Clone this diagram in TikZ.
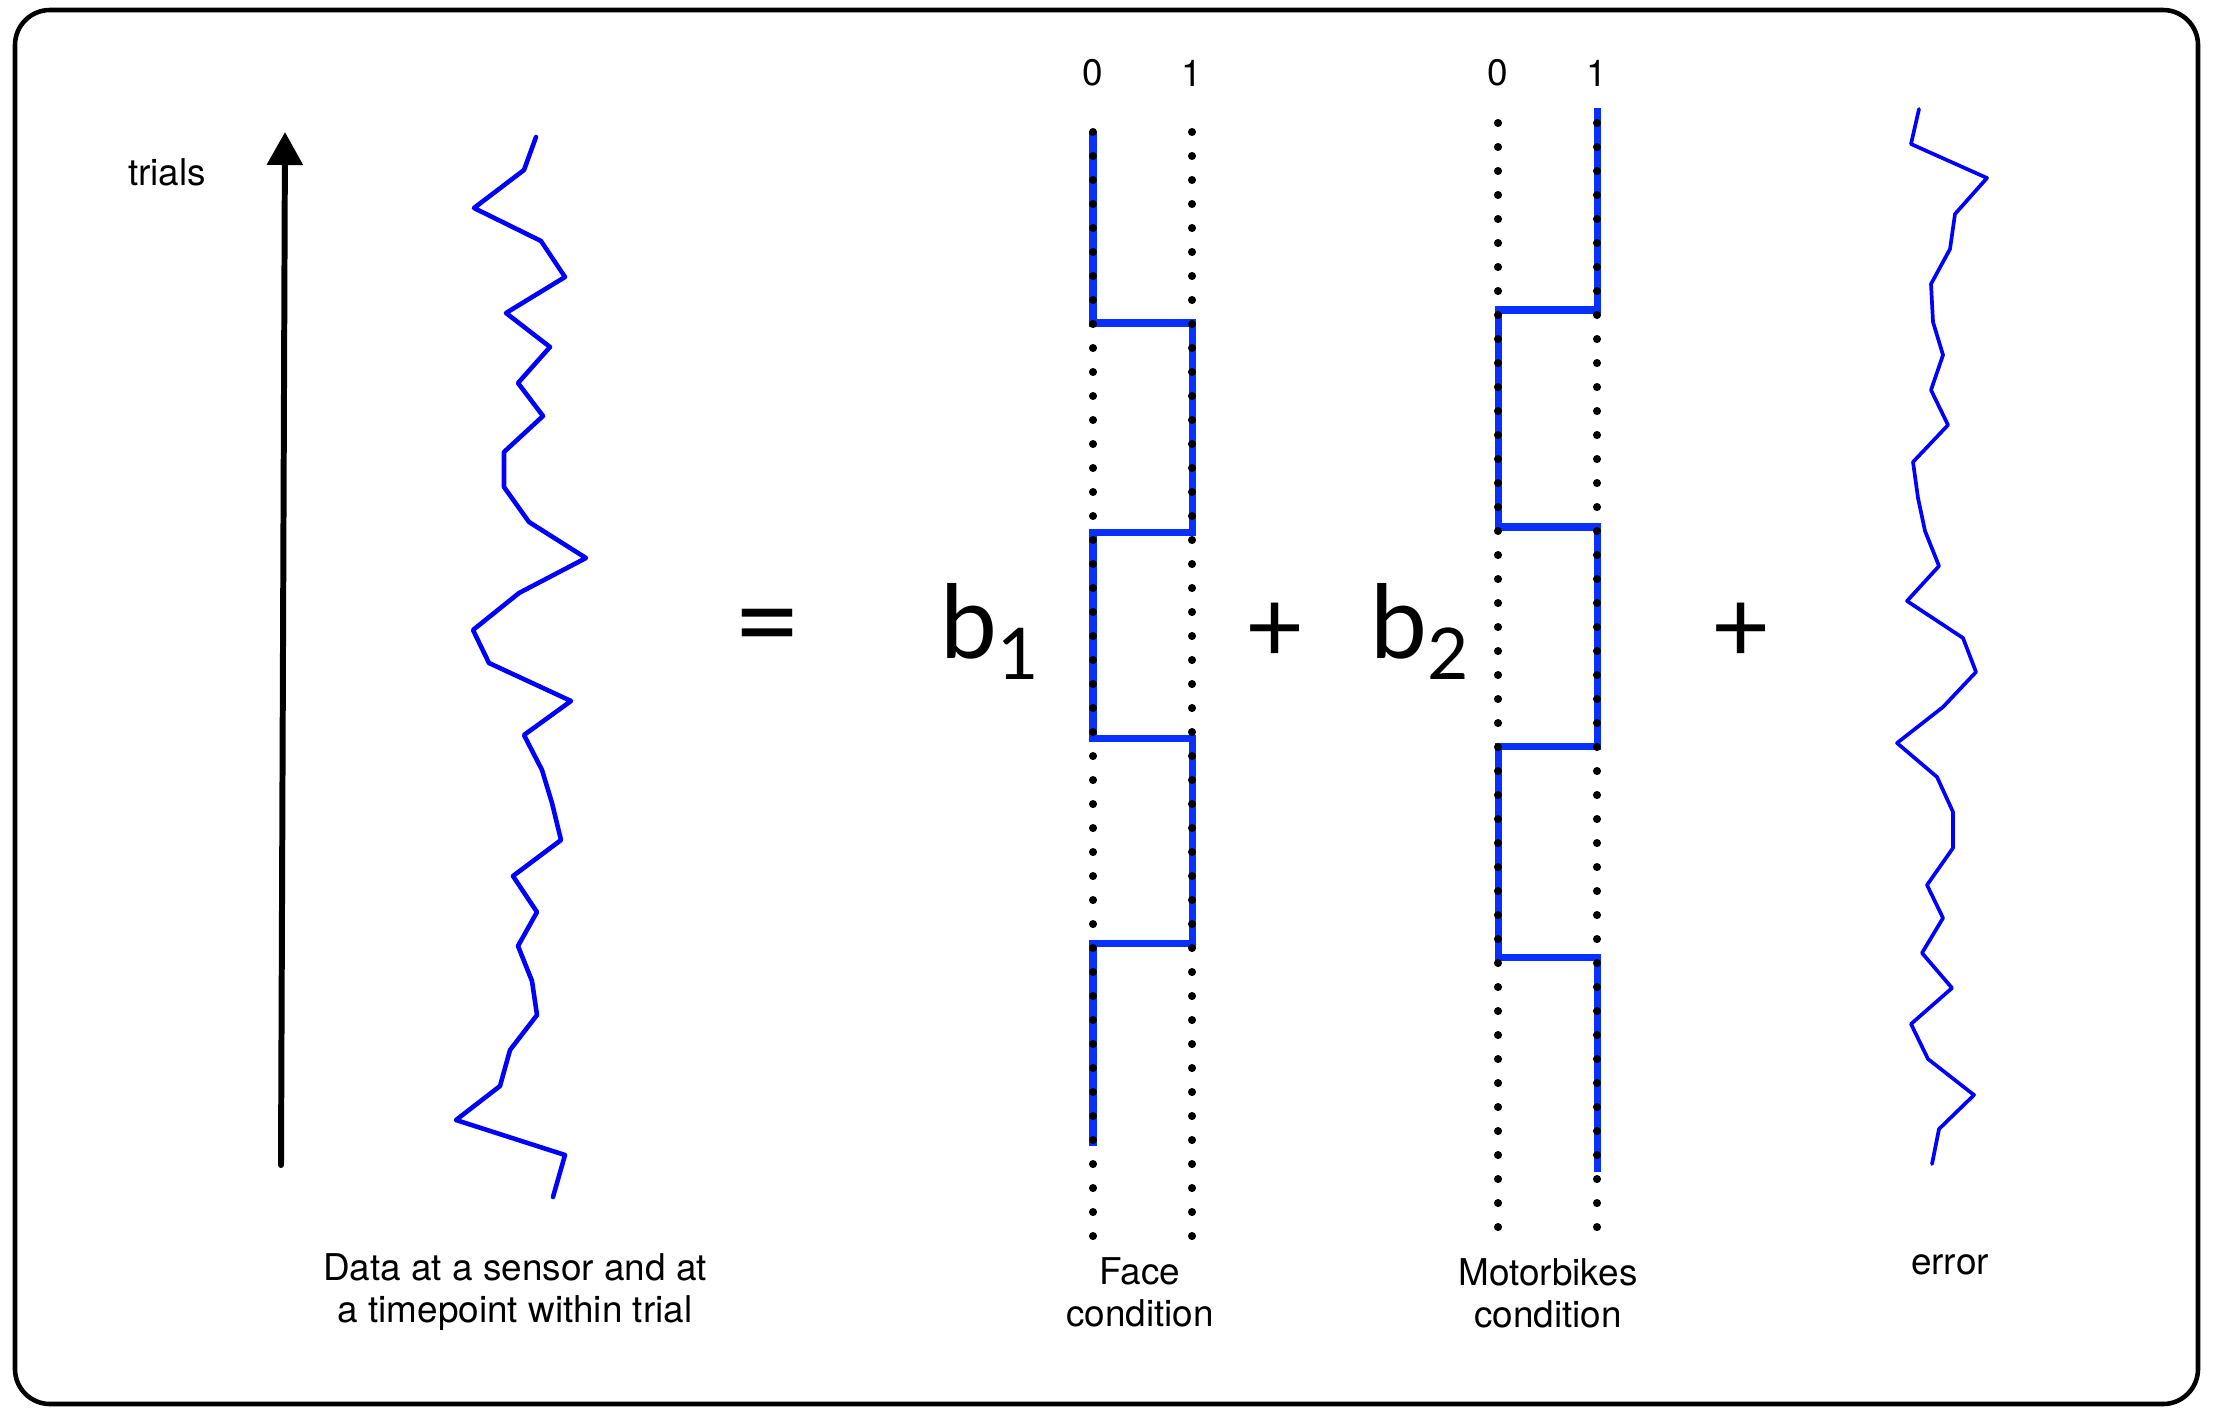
\documentclass[tikz,border=0pt]{standalone}
\usepackage{fontspec}
\setmainfont{TeX Gyre Heros}
\newfontfamily\gillfont{Lato}
\usepackage{tikz}
\usetikzlibrary{arrows.meta}
\definecolor{tracecol}{RGB}{0,0,255}
\definecolor{stepcol}{RGB}{8,48,255}
\tikzset{
  bordbox/.style={draw=black, line width=1.3pt, rounded corners=0.35cm},
  sigline/.style={line width=1.3pt, tracecol, line join=round},
  errline/.style={line width=1.05pt, tracecol, line join=round},
  regline/.style={line width=2pt, stepcol, line cap=butt, line join=miter},
  guide/.style={line width=2.3pt, dash pattern=on 0pt off 0.24cm, line cap=round},
  trialarrow/.style={line width=1.7pt, -{Triangle[length=0.33cm,width=0.35cm]}},
  lvl/.style={font=\fontsize{10.5}{12}\selectfont, inner sep=0pt},
  capt/.style={font=\fontsize{10.5}{12}\selectfont, align=center, inner sep=0pt},
  bigsym/.style={font=\gillfont\fontsize{29}{30}\selectfont, inner sep=0pt},
}
\begin{document}
\begin{tikzpicture}[x=1cm,y=-1cm,line cap=round]
  \useasboundingbox (0,0) rectangle (22.14,14.08);
  \draw[bordbox] (0.15,0.10) rectangle (21.98,14.04);
  % ---- trials axis ----
  \coordinate (tbot) at (2.81,11.65);
  \coordinate (ttop) at (2.85,1.32);
  \draw[trialarrow] (tbot) -- (ttop);
  \node[lvl] (trials) at (1.67,1.72) {trials};
  % ---- data ----
  \draw[sigline] (5.36,1.37) -- (5.24,1.70) -- (4.74,2.08) -- (5.41,2.41) -- (5.65,2.77)
    -- (5.06,3.13) -- (5.50,3.47) -- (5.18,3.83) -- (5.43,4.16) -- (5.04,4.52)
    -- (5.04,4.87) -- (5.29,5.22) -- (5.86,5.58) -- (5.19,5.93) -- (4.73,6.30)
    -- (4.89,6.63) -- (5.71,7.01) -- (5.24,7.35) -- (5.42,7.70) -- (5.52,8.03)
    -- (5.61,8.40) -- (5.13,8.76) -- (5.37,9.12) -- (5.18,9.46) -- (5.32,9.81)
    -- (5.37,10.15) -- (5.10,10.50) -- (5.00,10.86) -- (4.56,11.20) -- (5.65,11.55)
    -- (5.53,11.97);
  \node[capt] (datalbl) at (5.15,12.92) {Data at a sensor and at\\a timepoint within trial};
  \node[bigsym, scale=1.15] (eq) at (7.67,6.36) {=};
  % ---- face regressor ----
  \node[bigsym, anchor=base west] (b1) at (9.40,6.58) {b\textsubscript{1}};
  \draw[regline] (10.93,1.32) -- (10.93,3.23) -- (11.92,3.23) -- (11.92,5.32)
    -- (10.93,5.32) -- (10.93,7.38) -- (11.92,7.38) -- (11.92,9.43)
    -- (10.93,9.43) -- (10.93,11.46);
  \node[capt] (facelbl) at (11.40,12.92) {Face\\condition};
  \node[bigsym] (plusA) at (12.75,6.33) {+};
  % ---- motorbikes regressor ----
  \node[bigsym, anchor=base west] (b2) at (13.70,6.58) {b\textsubscript{2}};
  \draw[regline] (15.97,1.08) -- (15.97,3.10) -- (14.98,3.10) -- (14.98,5.27)
    -- (15.97,5.27) -- (15.97,7.46) -- (14.98,7.46) -- (14.98,9.57)
    -- (15.97,9.57) -- (15.97,11.72);
  \node[capt] (motolbl) at (15.48,12.93) {Motorbikes\\condition};
  % dotted 0/1 guides on top
  \foreach \x/\top in {10.93/1.32, 11.92/1.32, 14.98/1.23, 15.97/1.23}
    \draw[guide] (\x,\top) -- ++(0,11.07);
  \foreach \x/\t [count=\i] in {10.93/0, 11.92/1, 14.98/0, 15.97/1}
    \node[lvl] (lvl\i) at (\x,0.73) {\t};
  \node[bigsym] (plusB) at (17.41,6.33) {+};
  % ---- error ----
  \draw[errline] (19.19,1.09) -- (19.11,1.44) -- (19.87,1.78) -- (19.55,2.14) -- (19.50,2.49)
    -- (19.31,2.84) -- (19.33,3.22) -- (19.43,3.55) -- (19.31,3.90) -- (19.48,4.25)
    -- (19.13,4.62) -- (19.18,4.98) -- (19.25,5.31) -- (19.39,5.66) -- (19.07,6.01)
    -- (19.63,6.38) -- (19.76,6.72) -- (19.43,7.07) -- (18.97,7.43) -- (19.37,7.77)
    -- (19.53,8.12) -- (19.53,8.48) -- (19.27,8.85) -- (19.43,9.18) -- (19.22,9.53)
    -- (19.52,9.88) -- (19.11,10.24) -- (19.28,10.59) -- (19.74,10.95) -- (19.39,11.29)
    -- (19.32,11.64);
  \node[capt] (errlbl) at (19.50,12.65) {error};
\end{tikzpicture}
\end{document}
